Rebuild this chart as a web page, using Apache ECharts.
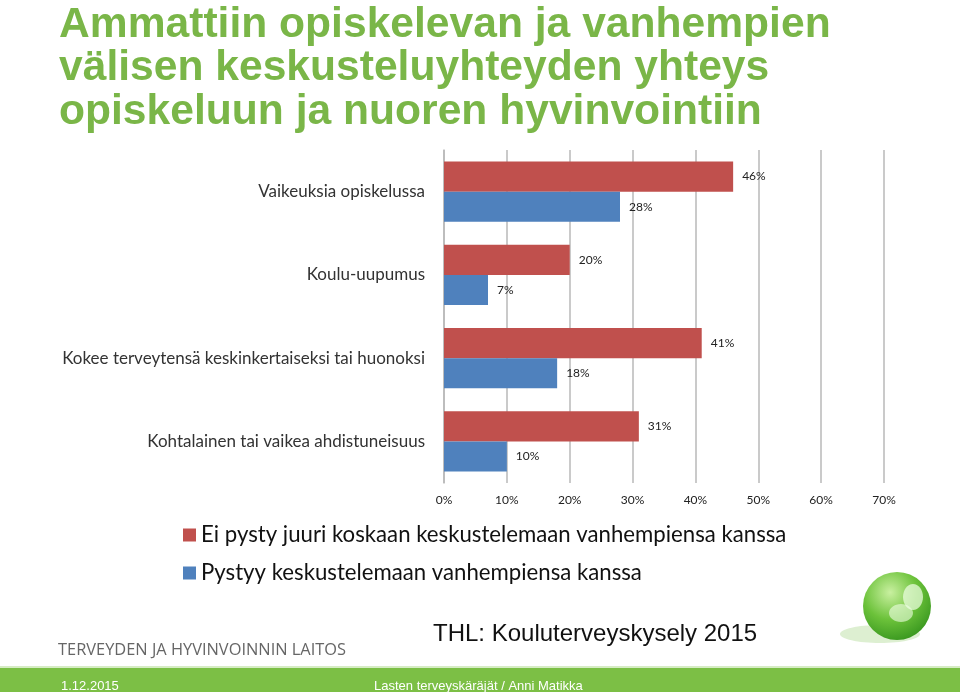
<!DOCTYPE html>
<html><head><meta charset="utf-8">
<script src="https://cdn.jsdelivr.net/npm/echarts@6/dist/echarts.min.js"></script>
<style>html,body{margin:0;padding:0;background:#fff}#c{width:960px;height:692px}</style>
</head><body><div id="c"></div>
<script>
const categories = ['Vaikeuksia opiskelussa', 'Koulu-uupumus', 'Kokee terveytensä keskinkertaiseksi tai huonoksi', 'Kohtalainen tai vaikea ahdistuneisuus'];
const seriesNames = ['Ei pysty juuri koskaan keskustelemaan vanhempiensa kanssa', 'Pystyy keskustelemaan vanhempiensa kanssa'];
const redValues = [46, 20, 41, 31];
const blueValues = [28, 7, 18, 10];
const xTicks = [0, 10, 20, 30, 40, 50, 60, 70];

const chart = echarts.init(document.getElementById('c'));
const lbl = {show: true, position: 'right', distance: 9, formatter: '{c}%', fontFamily: 'Lato', fontSize: 12, color: '#222'};
chart.setOption({
  animation: false,
  title: [
    {text: 'Ammattiin opiskelevan ja vanhempien\nvälisen keskusteluyhteyden yhteys\nopiskeluun ja nuoren hyvinvointiin', left: 54, top: -2,
     textStyle: {fontFamily: 'Liberation Sans', fontWeight: 'bold', fontSize: 42.6, lineHeight: 43.5, color: '#7ab648'}},
    {text: 'TERVEYDEN JA HYVINVOINNIN LAITOS', left: 53, top: 637,
     textStyle: {fontFamily: 'Open Sans', fontWeight: 'normal', fontSize: 16.4, color: '#666'}},
    {text: 'THL: Kouluterveyskysely 2015', left: 428, top: 617,
     textStyle: {fontFamily: 'Liberation Sans Narrow, Liberation Sans', fontWeight: 'normal', fontSize: 24, color: '#111'}},
    {text: '1.12.2015', left: 56, top: 675,
     textStyle: {fontFamily: 'Liberation Sans Narrow, Liberation Sans', fontWeight: 'normal', fontSize: 13, color: '#fff'}},
    {text: 'Lasten terveyskäräjät / Anni Matikka', left: 369, top: 675,
     textStyle: {fontFamily: 'Liberation Sans Narrow, Liberation Sans', fontWeight: 'normal', fontSize: 13, color: '#fff'}}
  ],
  graphic: [
    {type: 'rect', z: -1, shape: {x: 0, y: 668, width: 960, height: 24}, style: {fill: '#7cbf45'}},
    {type: 'rect', z: -1, shape: {x: 0, y: 666, width: 960, height: 2}, style: {fill: '#d6ecc4'}},
    {type: 'ellipse', z: -1, shape: {cx: 880, cy: 634, rx: 40, ry: 9}, style: {fill: 'rgba(120,190,70,0.25)'}},
    {type: 'circle', z: -1, shape: {cx: 897, cy: 606, r: 34},
     style: {fill: new echarts.graphic.RadialGradient(0.4, 0.3, 0.8, [{offset: 0, color: '#c9f0a0'}, {offset: 0.5, color: '#6cc23a'}, {offset: 1, color: '#2f8f1a'}])}},
    {type: 'ellipse', z: -1, shape: {cx: 892, cy: 589, rx: 14, ry: 9}, rotation: 0.3, style: {fill: 'rgba(240,255,230,0.75)'}},
    {type: 'ellipse', z: -1, shape: {cx: 913, cy: 597, rx: 10, ry: 13}, style: {fill: 'rgba(240,255,230,0.7)'}},
    {type: 'ellipse', z: -1, shape: {cx: 901, cy: 613, rx: 12, ry: 9}, style: {fill: 'rgba(240,255,230,0.6)'}}
  ],
  legend: {
    orient: 'vertical', left: 178, top: 519, itemGap: 16, itemWidth: 13, itemHeight: 13, icon: 'rect',
    textStyle: {fontFamily: 'Lato', fontSize: 22.2, color: '#111'},
    data: seriesNames
  },
  grid: {left: 444, right: 76, top: 150, bottom: 209, containLabel: false},
  xAxis: {
    type: 'value', min: 0, max: 70, interval: 10,
    axisLine: {show: false}, axisTick: {show: false},
    axisLabel: {formatter: '{value}%', margin: 11, fontFamily: 'Lato', fontSize: 12, color: '#222',
      customValues: xTicks},
    splitLine: {show: true, lineStyle: {color: '#b8b8b8', width: 1.5}}
  },
  yAxis: {
    type: 'category', inverse: true, data: categories,
    axisLine: {show: true, lineStyle: {color: '#b8b8b8', width: 1.5}}, axisTick: {show: false},
    axisLabel: {margin: 19, fontFamily: 'Lato', fontSize: 17, color: '#333'}
  },
  series: [
    {name: seriesNames[0], type: 'bar', data: redValues, barCategoryGap: '27.7%', barGap: '0%',
     itemStyle: {color: '#c0504d'}, label: lbl},
    {name: seriesNames[1], type: 'bar', data: blueValues, barCategoryGap: '27.7%', barGap: '0%',
     itemStyle: {color: '#4f81bd'}, label: lbl}
  ]
});
</script></body></html>
